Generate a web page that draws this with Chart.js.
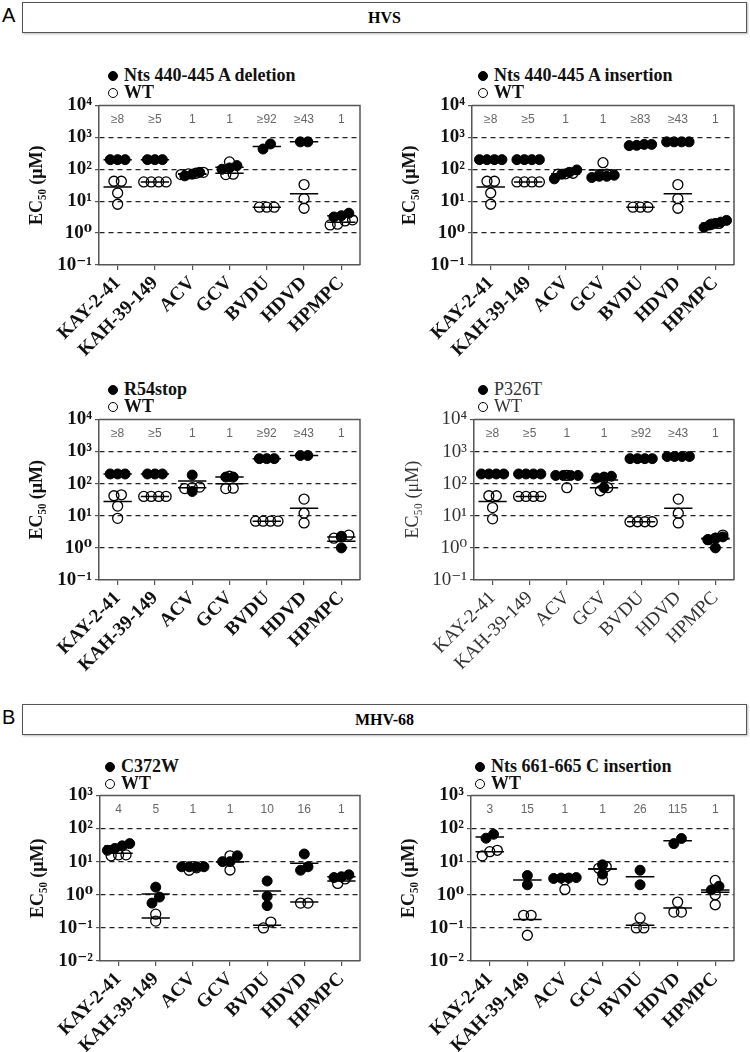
<!DOCTYPE html>
<html>
<head>
<meta charset="utf-8">
<script src="https://cdn.jsdelivr.net/npm/chart.js@4.4.1/dist/chart.umd.min.js"></script>
<style>
body{margin:0;background:#fff;width:750px;height:1052px;position:relative;overflow:hidden;font-family:'Liberation Serif','DejaVu Serif',serif}
.box{position:absolute;left:22px;width:725px;height:31px;border:1.5px solid #555;box-shadow:1px 1px 2px #bbb;text-align:center;font-weight:bold;font-size:16px;line-height:29px;box-sizing:border-box}
.tag{position:absolute;left:2px;font-family:'Liberation Sans',sans-serif;font-size:20px}
canvas{position:absolute}
.leg{position:absolute;font-size:18px;font-weight:bold;line-height:18px;white-space:nowrap;color:#111}
.leg.thin{font-weight:normal;color:#333}
.dot{display:inline-block;width:10px;height:10px;border-radius:50%;border:1.5px solid #000;box-sizing:border-box;margin-right:6px;vertical-align:0px}
.dot.full{background:#000}
</style>
</head>
<body>
<div class="tag" style="top:4px">A</div>
<div class="box" style="top:2px">HVS</div>
<div class="tag" style="top:706px">B</div>
<div class="box" style="top:704px">MHV-68</div>

<canvas id="c1"></canvas>
<canvas id="c2"></canvas>
<canvas id="c3"></canvas>
<canvas id="c4"></canvas>
<canvas id="c5"></canvas>
<canvas id="c6"></canvas>

<script>
// categories
var drugs = ['KAY-2-41', 'KAH-39-149', 'ACV', 'GCV', 'BVDU', 'HDVD', 'HPMPC'];
var ticksHVS = [0.1, 1, 10, 100, 1000, 10000];
var ticksMHV = [0.01, 0.1, 1, 10, 100, 1000];

// HVS - Nts 440-445 A deletion
var delMut = [[200, 200, 200], [200, 200, 200], [80, 62, 70], [110, 130, 100], [620, 430], [720, 720], [4.2, 3.2, 3.5]];
var delWt = [[42, 42, 18, 8], [40, 40, 40, 40], [72, 80, 68, 75], [170, 70, 68], [6.5, 6.5, 6.5], [33, 12, 6], [2.6, 1.8, 2.4, 1.9]];
var delMutMed = [200, 200, 70, 115, 520, 720, 3.5];
var delWtMed = [28, 40, 72, 75, 6.5, 17, 2.2];
var delFold = ['≥8', '≥5', '1', '1', '≥92', '≥43', '1'];

// HVS - Nts 440-445 A insertion
var insMut = [[200, 200, 200, 200], [200, 200, 200, 200], [95, 70, 50, 80], [60, 55, 65, 60], [600, 550, 600, 560], [720, 720, 720, 720], [2.2, 1.5, 2.5, 2.0, 1.8]];
var insWt = [[42, 42, 18, 8], [40, 40, 40, 40], [75, 70, 72], [160, 70, 65], [6.5, 6.5, 6.5], [33, 12, 6], [2.0, 1.9]];
var insMutMed = [200, 200, 72, 62, 590, 720, 2.0];
var insWtMed = [28, 40, 72, 95, 6.5, 17, 2.0];
var insFold = ['≥8', '≥5', '1', '1', '≥83', '≥43', '1'];

// HVS - R54stop
var r54Mut = [[200, 200, 200], [200, 200, 200], [185, 57], [160, 160], [600, 600, 600], [750, 750], [2.3, 1.0]];
var r54Wt = [[45, 42, 20, 8.3], [40, 40, 40, 40], [78, 70, 75], [170, 72, 70], [6.8, 6.8, 6.8, 6.8], [33, 12, 6], [2.2, 2.5, 2.0]];
var r54MutMed = [200, 200, 120, 160, 600, 750, 1.6];
var r54WtMed = [28, 40, 75, 100, 6.8, 17, 2.2];
var r54Fold = ['≥8', '≥5', '1', '1', '≥92', '≥43', '1'];

// HVS - P326T
var p326Mut = [[200, 200, 200, 200], [200, 200, 200, 200], [180, 180, 180, 180], [170, 160, 150, 75], [600, 600, 600, 600], [700, 700, 700, 700], [1.8, 2.0, 1.0, 2.2]];
var p326Wt = [[42, 42, 18, 8], [40, 40, 40, 40], [180, 75], [75, 60, 150], [6.5, 6.5, 6.5, 6.5], [33, 12, 6], [2.5, 2.0, 1.8]];
var p326MutMed = [200, 200, 150, 130, 600, 700, 1.9];
var p326WtMed = [28, 40, 150, 75, 6.5, 17, 2.0];
var p326Fold = ['≥8', '≥5', '1', '1', '≥92', '≥43', '1'];

// MHV-68 - C372W
var c372Mut = [[35, 30, 25, 22], [1.7, 0.85, 0.56], [7, 7, 7, 7], [15, 10, 10], [2.6, 0.9, 0.47], [17, 7, 5.5], [4, 3.5, 3.3]];
var c372Wt = [[16, 15, 16], [0.26, 0.16], [5.5, 6.5], [15, 5.6], [0.15, 0.1], [0.56, 0.56], [2.2, 3]];
var c372MutMed = [30, 1.05, 7, 10, 1.3, 9, 3.5];
var c372WtMed = [18, 0.2, 6, 10, 0.12, 0.6, 2.6];
var c372Fold = ['4', '5', '1', '1', '10', '16', '1'];

// MHV-68 - Nts 661-665 C insertion
var cinsMut = [[67, 51], [2.0, 3.8], [3.2, 3.3, 3.2, 3.1], [8, 4.2], [5.5, 2.0], [50, 35], [1.4, 1.8]];
var cinsWt = [[22, 15, 20], [0.24, 0.24, 0.06], [2.8, 1.45], [7, 6.3, 2.8], [0.2, 0.1, 0.1], [0.6, 0.3, 0.3], [2.7, 0.5, 1.0]];
var cinsMutMed = [55, 2.8, 3.2, 6, 3.5, 43, 1.4];
var cinsWtMed = [20, 0.18, 3, 6, 0.12, 0.4, 1.2];
var cinsFold = ['3', '15', '1', '1', '26', '115', '1'];

var serif = "'Liberation Serif','DejaVu Serif',serif";
var supMap = {'0': '⁰', '1': '¹', '2': '²', '3': '³', '4': '⁴', '-': '⁻'};
function sup(n) {
    return String(n).split('').map(function (c) { return supMap[c]; }).join('');
}

// spread equal-ish values sideways, like a column scatter plot
function spread(vals) {
    var order = vals.map(function (v, i) { return i; }).sort(function (a, b) { return vals[a] - vals[b]; });
    var off = vals.map(function () { return 0; });
    var k = 0;
    while (k < order.length) {
        var j = k;
        while (j + 1 < order.length && Math.log10(vals[order[j + 1]]) - Math.log10(vals[order[j]]) < 0.2) j++;
        var m = j - k + 1;
        var step = m > 1 ? Math.min(0.2, 0.6 / (m - 1)) : 0;
        for (var t = 0; t < m; t++) off[order[k + t]] = (t - (m - 1) / 2) * step;
        k = j + 1;
    }
    return off;
}

function points(groups) {
    var out = [];
    groups.forEach(function (g, i) {
        var off = spread(g);
        g.forEach(function (v, n) { out.push({x: i + off[n], y: v}); });
    });
    return out;
}

function medians(meds) {
    var out = [];
    meds.forEach(function (m, i) {
        out.push({x: i - 0.38, y: m}, {x: i + 0.38, y: m}, {x: i, y: null});
    });
    return out;
}

var frame = {
    id: 'frame',
    afterDraw: function (chart) {
        var a = chart.chartArea, c = chart.ctx;
        c.save();
        c.strokeStyle = '#555';
        c.lineWidth = 1.5;
        c.beginPath();
        c.moveTo(a.left, a.top);
        c.lineTo(a.right, a.top);
        c.lineTo(a.right, a.bottom);
        c.stroke();
        c.restore();
    }
};

var foldLabels = {
    id: 'folds',
    afterDatasetsDraw: function (chart, args, opts) {
        var x = chart.scales.x, c = chart.ctx;
        c.save();
        c.font = "12px 'Liberation Sans', sans-serif";
        c.fillStyle = '#666';
        c.textAlign = 'center';
        c.textBaseline = 'middle';
        opts.labels.forEach(function (t, i) {
            c.fillText(t, x.getPixelForValue(i), chart.chartArea.top + 14);
        });
        c.restore();
    }
};

function legend(x, y, names, bold) {
    [['full', names[0]], ['', names[1]]].forEach(function (it, i) {
        var d = document.createElement('div');
        d.className = 'leg' + (bold ? '' : ' thin');
        d.style.left = (x - 5) + 'px';
        d.style.top = (y + i * 17 - 9) + 'px';
        d.innerHTML = '<span class="dot ' + it[0] + '"></span>' + it[1];
        document.body.appendChild(d);
    });
}

function panel(id, rect, mut, wt, mutMed, wtMed, folds, yTicks, bold) {
    var padL = 72, padT = 12, padR = 8, padB = 95;
    var weight = bold ? 'bold' : 'normal';
    var txt = bold ? '#111' : '#333';
    var cv = document.getElementById(id);
    cv.style.left = (rect[0] - padL) + 'px';
    cv.style.top = (rect[1] - padT) + 'px';
    cv.width = padL + (rect[2] - rect[0]) + padR;
    cv.height = padT + (rect[3] - rect[1]) + padB;
    var yMin = yTicks[0], yMax = yTicks[yTicks.length - 1];

    new Chart(cv, {
        type: 'scatter',
        data: {
            datasets: [
                {data: medians(wtMed), showLine: true, borderColor: '#000', borderWidth: 1.5, pointRadius: 0},
                {data: medians(mutMed), showLine: true, borderColor: '#000', borderWidth: 1.5, pointRadius: 0},
                {data: points(wt), pointRadius: 5, borderWidth: 1.3, borderColor: '#000', backgroundColor: 'rgba(0,0,0,0)'},
                {data: points(mut), pointRadius: 5, borderWidth: 1, borderColor: '#000', backgroundColor: '#000'}
            ]
        },
        options: {
            responsive: false,
            animation: false,
            events: [],
            layout: {padding: {top: padT, right: padR, left: 0, bottom: 0}},
            plugins: {legend: {display: false}, tooltip: {enabled: false}, folds: {labels: folds}},
            scales: {
                x: {
                    type: 'linear', min: -0.5, max: 6.5,
                    afterBuildTicks: function (s) { s.ticks = drugs.map(function (d, i) { return {value: i}; }); },
                    afterFit: function (s) { s.height = padB; },
                    ticks: {
                        callback: function (v) { return drugs[v]; },
                        maxRotation: 45, minRotation: 45, autoSkip: false, padding: 2,
                        font: {family: serif, size: 19, weight: weight}, color: txt
                    },
                    grid: {drawOnChartArea: false, tickLength: 5, color: '#555', lineWidth: 1.2},
                    border: {color: '#555', width: 1.5}
                },
                y: {
                    type: 'logarithmic', min: yMin, max: yMax,
                    afterBuildTicks: function (s) { s.ticks = yTicks.map(function (v) { return {value: v}; }); },
                    afterFit: function (s) { s.width = padL; },
                    ticks: {
                        callback: function (v) { return '10' + sup(Math.round(Math.log10(v))); },
                        padding: 3,
                        font: {family: serif, size: 19, weight: weight}, color: txt
                    },
                    grid: {
                        color: function (c) {
                            return (c.tick && (c.tick.value === yMin || c.tick.value === yMax)) ? 'rgba(0,0,0,0)' : '#222';
                        },
                        tickColor: '#555', tickLength: 4, lineWidth: 1.2
                    },
                    border: {color: '#555', width: 1.5, dash: [5, 4]},
                    title: {display: true, text: 'EC₅₀ (μM)', padding: 0, font: {family: serif, size: 18, weight: weight}, color: txt}
                }
            }
        },
        plugins: [frame, foldLabels]
    });
}

panel('c1', [99, 103, 360, 265], delMut, delWt, delMutMed, delWtMed, delFold, ticksHVS, true);
panel('c2', [472, 103, 734, 265], insMut, insWt, insMutMed, insWtMed, insFold, ticksHVS, true);
panel('c3', [99, 417, 360, 580], r54Mut, r54Wt, r54MutMed, r54WtMed, r54Fold, ticksHVS, true);
panel('c4', [474, 417, 734, 580], p326Mut, p326Wt, p326MutMed, p326WtMed, p326Fold, ticksHVS, false);
panel('c5', [100, 793, 360, 961], c372Mut, c372Wt, c372MutMed, c372WtMed, c372Fold, ticksMHV, true);
panel('c6', [471, 793, 734, 961], cinsMut, cinsWt, cinsMutMed, cinsWtMed, cinsFold, ticksMHV, true);

legend(113, 75, ['Nts 440-445 A deletion', 'WT'], true);
legend(483, 75, ['Nts 440-445 A insertion', 'WT'], true);
legend(113, 389, ['R54stop', 'WT'], true);
legend(483, 389, ['P326T', 'WT'], false);
legend(110, 766, ['C372W', 'WT'], true);
legend(480, 766, ['Nts 661-665 C insertion', 'WT'], true);
</script>
</body>
</html>
